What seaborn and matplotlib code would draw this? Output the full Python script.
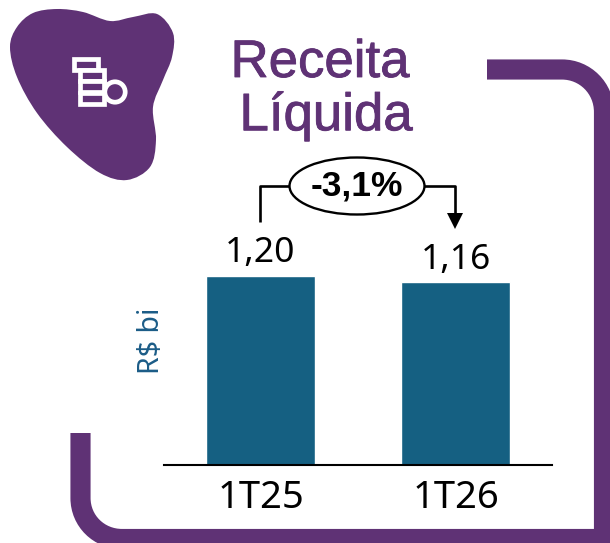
#!/usr/bin/env python3
"""Receita Liquida bar card: two quarters with the percent change on top."""

import pandas as pd
import matplotlib
matplotlib.use("Agg")
import matplotlib.pyplot as plt
import matplotlib.patheffects as pe
from matplotlib.patches import Ellipse, PathPatch, Rectangle, Circle
from matplotlib.path import Path
import seaborn as sns

# Data
quarters = ["1T25", "1T26"]
revenue = [1.20, 1.16]
value_labels = ["1,20", "1,16"]
title_lines = ["Receita", "Líquida"]
change_label = "-3,1%"
unit_label = "R$ bi"

PURPLE = "#5F3275"
BAR_BLUE = "#156082"
UNIT_BLUE = "#1B5C87"
W, H = 610, 543


def smooth_closed(points):
    """Closed Catmull-Rom outline turned into bezier path."""
    n = len(points)
    verts = [points[0]]
    codes = [Path.MOVETO]
    for i in range(n):
        p0, p1, p2, p3 = points[i - 1], points[i], points[(i + 1) % n], points[(i + 2) % n]
        c1 = (p1[0] + (p2[0] - p0[0]) / 6, p1[1] + (p2[1] - p0[1]) / 6)
        c2 = (p2[0] - (p3[0] - p1[0]) / 6, p2[1] - (p3[1] - p1[1]) / 6)
        verts += [c1, c2, p2]
        codes += [Path.CURVE4] * 3
    return Path(verts, codes)


def draw_decorations(deco):
    # blob behind the icon
    blob = [(33, 13), (57, 9), (83, 12), (110, 21), (133, 17), (157, 14), (173, 33),
            (172, 57), (163, 80), (153, 107), (156, 140), (150, 167), (127, 180),
            (100, 173), (67, 147), (37, 113), (17, 77), (10, 47), (17, 27)]
    deco.add_patch(PathPatch(smooth_closed(blob), fc=PURPLE, ec="none"))

    # icon: stacked bills and a coin
    for x, y, w, h in [(74, 59, 24, 11), (80, 70, 24, 11), (80, 81, 24, 11), (80, 93, 24, 11)]:
        deco.add_patch(Rectangle((x, y), w, h, fc=PURPLE, ec="white", lw=3.4))
    deco.add_patch(Circle((115, 92), 10.2, fc=PURPLE, ec="white", lw=3.4))

    # frame pieces, top right and bottom left
    top = Path([(487, 69.5), (562, 69.5), (585, 69.5), (604, 88), (604, 112), (604, 543)],
               [Path.MOVETO, Path.LINETO, Path.CURVE4, Path.CURVE4, Path.CURVE4, Path.LINETO])
    bottom = Path([(80.5, 433), (80.5, 498), (80.5, 521), (99, 539), (122, 539), (610, 539)],
                  [Path.MOVETO, Path.LINETO, Path.CURVE4, Path.CURVE4, Path.CURVE4, Path.LINETO])
    for frame in (top, bottom):
        deco.add_patch(PathPatch(frame, fc="none", ec=PURPLE, lw=14.5, capstyle="butt"))

    # change bracket with arrow
    deco.plot([260, 260, 292], [222, 186, 186], color="black", lw=1.9, solid_capstyle="butt")
    deco.plot([422, 455, 455], [186, 186, 214], color="black", lw=1.9, solid_capstyle="butt")
    deco.add_patch(plt.Polygon([(447, 213), (463, 213), (455, 229)], fc="black", ec="none"))
    deco.add_patch(Ellipse((357, 186), 135, 57, fc="white", ec="black", lw=1.7, zorder=3))
    deco.text(357, 186, change_label, ha="center", va="center", fontsize=25.5,
              fontweight="bold", family="Liberation Sans", color="black", zorder=4)

    # title, the thin stroke thickens the regular weight
    heavy = [pe.withStroke(linewidth=0.6, foreground=PURPLE)]
    deco.text(320, 63, title_lines[0], ha="center", va="center", fontsize=38,
              color=PURPLE, family="Liberation Sans", path_effects=heavy)
    deco.text(326, 116, title_lines[1], ha="center", va="center", fontsize=38,
              color=PURPLE, family="Liberation Sans", path_effects=heavy)


def main():
    sns.set_theme(style="white")
    fig = plt.figure(figsize=(W / 100, H / 100), dpi=100, facecolor="white")

    # axes placed so that the baseline sits at y=465 and runs from x=164 to x=552
    ax = fig.add_axes([164 / W, 1 - 465 / H, 388 / W, 204 / H])
    df = pd.DataFrame({"quarter": quarters, "revenue": revenue})
    sns.barplot(data=df, x="quarter", y="revenue", color=BAR_BLUE, saturation=1,
                width=0.56, ax=ax)
    ax.set_xlim(-0.495, 1.495)
    ax.set_ylim(0, 1.295)
    ax.set_xlabel("")
    ax.set_ylabel(unit_label, fontsize=20.5, color=UNIT_BLUE, family="Noto Sans", labelpad=0)
    ax.yaxis.set_label_coords(0.006, 0.61)
    ax.set_yticks([])
    ax.tick_params(axis="x", length=0, pad=10, labelsize=27.5, labelcolor="black")
    for lab in ax.get_xticklabels():
        lab.set_family("Noto Sans")
    sns.despine(ax=ax, left=True)
    ax.spines["bottom"].set_color("black")
    ax.spines["bottom"].set_linewidth(1.5)
    ax.bar_label(ax.containers[0], labels=value_labels, padding=4, fontsize=25.5,
                 color="black", family="Noto Sans")
    ax.patch.set_alpha(0)

    deco = fig.add_axes([0, 0, 1, 1], zorder=-1)
    deco.set_xlim(0, W)
    deco.set_ylim(H, 0)
    deco.axis("off")
    draw_decorations(deco)

    fig.savefig("out.png", dpi=100)
    plt.close(fig)


if __name__ == "__main__":
    main()
